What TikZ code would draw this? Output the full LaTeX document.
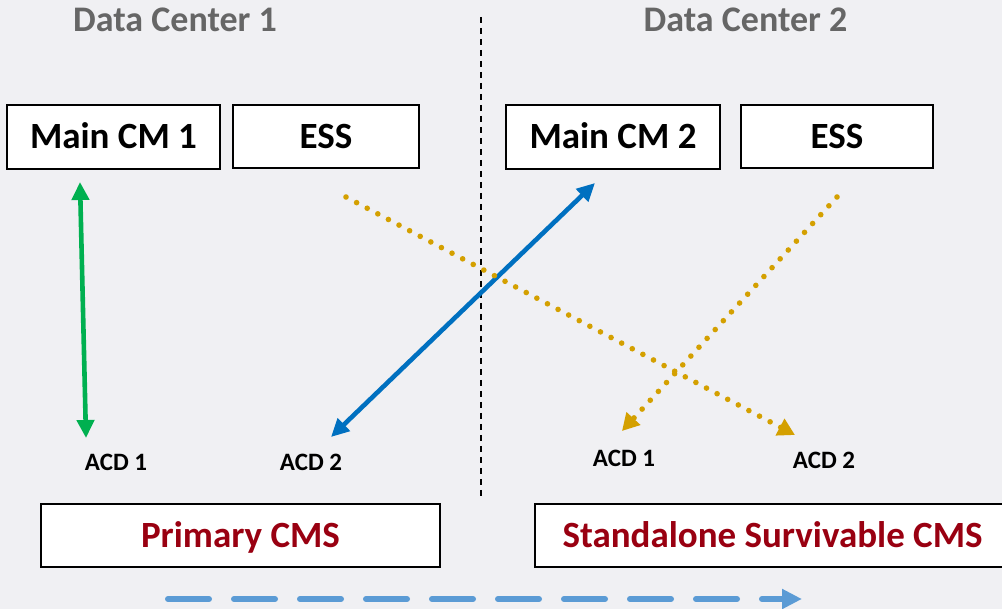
\documentclass[tikz,border=0pt]{standalone}
\usepackage{fontspec}
\setmainfont{Carlito}
\usetikzlibrary{arrows.meta}
\definecolor{bg}{HTML}{F0F0F3}
\definecolor{dcgray}{HTML}{666666}
\definecolor{cmsred}{HTML}{990011}
\definecolor{ggreen}{HTML}{00B050}
\definecolor{bblue}{HTML}{0070C0}
\definecolor{gold}{HTML}{D4A000}
\definecolor{lblue}{HTML}{5B9BD5}
\begin{document}
\begin{tikzpicture}[x=1pt,y=-1pt,
  box/.style={draw=black,line width=1.6pt,fill=white,inner sep=0pt,
    font=\fontsize{37}{40}\selectfont\bfseries,text height=24pt,text depth=0pt},
  cmsbox/.style={box,text=cmsred},
  dctitle/.style={anchor=base,inner sep=0pt,text=dcgray,font=\fontsize{36}{40}\selectfont\bfseries},
  acd/.style={anchor=base,inner sep=0pt,font=\fontsize{25}{28}\selectfont\bfseries},
  solidarrow/.style={line width=4.6pt,{Triangle[length=18pt,width=17pt]}-{Triangle[length=18pt,width=17pt]}},
  goldarrow/.style={gold,line width=5.6pt,line cap=round,dash pattern=on 0pt off 12pt,
    -{Triangle[length=17pt,width=18pt]}},
  divider/.style={line width=1.8pt,dash pattern=on 6pt off 5pt},
  flowarrow/.style={lblue,line width=6pt,line cap=round,dash pattern=on 41pt off 25pt,
    -{Triangle[length=20pt,width=19pt]}}
]
\useasboundingbox (0,0) rectangle (1002,609);
\clip (0,0) rectangle (1002,609);
\fill[bg] (0,0) rectangle (1002,609);

% titles
\node[dctitle] (dc1) at (175,32) {Data Center 1};
\node[dctitle] (dc2) at (745.5,32) {Data Center 2};

% divider
\coordinate (divtop) at (481,17);
\coordinate (divbot) at (481,500);
\draw[divider] (divtop) -- (divbot);

% top boxes
\node[box,minimum width=213pt,minimum height=64pt] (cm1) at (113.5,137) {Main CM 1};
\node[box,minimum width=186pt,minimum height=63pt] (ess1) at (326,136.5) {ESS};
\node[box,minimum width=214pt,minimum height=64pt] (cm2) at (613,137) {Main CM 2};
\node[box,minimum width=192pt,minimum height=63pt] (ess2) at (837,136.5) {ESS};

% bottom boxes
\node[cmsbox,minimum width=399pt,minimum height=63pt] (pcms) at (240.5,535.5) {Primary CMS};
\node[cmsbox,minimum width=475pt,minimum height=63pt] (scms) at (772.5,535.5) {Standalone Survivable CMS};

% ACD labels
\node[acd] (acd1l) at (116,471) {ACD 1};
\node[acd] (acd2l) at (311,471) {ACD 2};
\node[acd] (acd1r) at (624,467) {ACD 1};
\node[acd] (acd2r) at (824,469) {ACD 2};

% arrow end points
\coordinate (g1) at (80,182);
\coordinate (g2) at (86,438);
\coordinate (b1) at (331,437);
\coordinate (b2) at (595,183);
\coordinate (o1s) at (346,197);
\coordinate (o1e) at (795,435);
\coordinate (o2s) at (837,197);
\coordinate (o2e) at (622,431);
\coordinate (fs) at (168,599);
\coordinate (fe) at (802,599);

\draw[solidarrow,ggreen] (g1) -- (g2);
\draw[solidarrow,bblue] (b1) -- (b2);
\draw[goldarrow] (o1s) -- (o1e);
\draw[goldarrow] (o2s) -- (o2e);
\draw[flowarrow] (fs) -- (fe);
\end{tikzpicture}
\end{document}
